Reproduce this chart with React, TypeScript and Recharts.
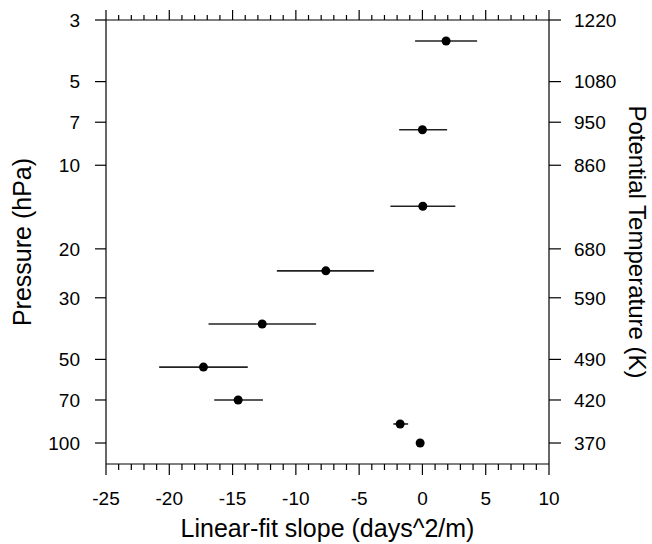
import { ComposedChart, Scatter, ErrorBar, XAxis, YAxis } from "recharts";

// pressure levels (hPa) and fitted slopes with their ranges
const pressure = [3.57, 7.45, 14.05, 24.0, 37.3, 53.3, 70.0, 85.4, 100];
const slope = [1.87, 0.0, 0.03, -7.63, -12.66, -17.3, -14.56, -1.76, -0.18];
const slopeLow = [-0.58, -1.84, -2.53, -11.5, -16.9, -20.8, -16.45, -2.3, -0.18];
const slopeHigh = [4.32, 1.95, 2.6, -3.83, -8.4, -13.8, -12.6, -1.13, -0.18];

const pressureTicks = [3, 5, 7, 10, 20, 30, 50, 70, 100];
const thetaTicks = [1220, 1080, 950, 860, 680, 590, 490, 420, 370];
const slopeTicks = Array.from({ length: 36 }, (_, i) => i - 25);

const data = pressure.map((p, i) => ({
  p,
  s: slope[i],
  err: [slope[i] - slopeLow[i], slopeHigh[i] - slope[i]],
}));

const FONT = "'Liberation Sans', Arial, Helvetica, sans-serif";
const TICK_FS = 19;
const TITLE_FS = 25;

function XTick(props: any) {
  const { x, y, payload, side } = props;
  const v = payload.value;
  const major = v % 5 === 0;
  const dir = side === "bottom" ? 1 : -1;
  const len = side === "bottom" ? (major ? 11 : 6) : major ? 10 : 5;
  return (
    <g>
      <line x1={x} x2={x} y1={y} y2={y + dir * len} stroke="#000" strokeWidth={1.2} />
      {side === "bottom" && major && (
        <text x={x} y={y + 41} textAnchor="middle" fontSize={TICK_FS} fontFamily={FONT} fill="#000">
          {v}
        </text>
      )}
    </g>
  );
}

function YTick(props: any) {
  const { x, y, payload, side } = props;
  const v = payload.value;
  const left = side === "left";
  const idx = pressureTicks.indexOf(v);
  const label = left ? String(v) : String(thetaTicks[idx]);
  return (
    <g>
      <line x1={x} x2={left ? x - 11 : x + 12} y1={y} y2={y} stroke="#000" strokeWidth={1.2} />
      <text
        x={left ? x - 26 : x + 25}
        y={y}
        dy="0.36em"
        textAnchor={left ? "end" : "start"}
        fontSize={TICK_FS}
        fontFamily={FONT}
        fill="#000"
      >
        {label}
      </text>
    </g>
  );
}

const Dot = (props: any) => <circle cx={props.cx} cy={props.cy} r={4.5} fill="#000" />;
const NoDot = () => <g />;

export default function App() {
  const axisLine = { stroke: "#000", strokeWidth: 1.2 };
  return (
    <div style={{ position: "absolute", left: 0, top: 0, background: "#fff" }}>
      <ComposedChart width={652} height={544} data={data} margin={{ top: 0, right: 0, bottom: 0, left: 0 }}>
        <XAxis
          xAxisId="b"
          dataKey="s"
          type="number"
          domain={[-25, 10]}
          ticks={slopeTicks}
          interval={0}
          allowDataOverflow
          height={80}
          axisLine={axisLine}
          tickLine={false}
          tickSize={0}
          tickMargin={0}
          tick={(p: any) => <XTick {...p} side="bottom" />}
          label={{
            content: (p: any) => {
              const vb = p.viewBox;
              return (
                <text
                  x={vb.x + vb.width / 2}
                  y={537}
                  textAnchor="middle"
                  fontSize={TITLE_FS}
                  fontFamily={FONT}
                  fill="#000"
                >
                  Linear-fit slope (days^2/m)
                </text>
              );
            },
          }}
        />
        <XAxis
          xAxisId="t"
          dataKey="s"
          orientation="top"
          type="number"
          domain={[-25, 10]}
          ticks={slopeTicks}
          interval={0}
          allowDataOverflow
          height={20}
          axisLine={axisLine}
          tickLine={false}
          tickSize={0}
          tickMargin={0}
          tick={(p: any) => <XTick {...p} side="top" />}
        />
        <YAxis
          yAxisId="l"
          dataKey="p"
          type="number"
          scale="log"
          domain={[3, 119]}
          reversed
          allowDataOverflow
          ticks={pressureTicks}
          interval={0}
          width={106}
          axisLine={axisLine}
          tickLine={false}
          tickSize={0}
          tickMargin={0}
          tick={(p: any) => <YTick {...p} side="left" />}
          label={{
            content: (p: any) => {
              const vb = p.viewBox;
              const cy = vb.y + vb.height / 2;
              return (
                <text
                  x={22}
                  y={cy}
                  transform={`rotate(-90, 22, ${cy})`}
                  textAnchor="middle"
                  dominantBaseline="central"
                  fontSize={TITLE_FS}
                  fontFamily={FONT}
                  fill="#000"
                >
                  Pressure (hPa)
                </text>
              );
            },
          }}
        />
        <YAxis
          yAxisId="r"
          dataKey="p"
          orientation="right"
          type="number"
          scale="log"
          domain={[3, 119]}
          reversed
          allowDataOverflow
          ticks={pressureTicks}
          interval={0}
          width={103}
          axisLine={axisLine}
          tickLine={false}
          tickSize={0}
          tickMargin={0}
          tick={(p: any) => <YTick {...p} side="right" />}
          label={{
            content: (p: any) => {
              const vb = p.viewBox;
              const cy = vb.y + vb.height / 2;
              return (
                <text
                  x={637}
                  y={cy}
                  transform={`rotate(90, 637, ${cy})`}
                  textAnchor="middle"
                  dominantBaseline="central"
                  fontSize={TITLE_FS - 1}
                  fontFamily={FONT}
                  fill="#000"
                >
                  Potential Temperature (K)
                </text>
              );
            },
          }}
        />
        <Scatter xAxisId="t" yAxisId="r" dataKey="p" shape={NoDot} isAnimationActive={false} />
        <Scatter xAxisId="b" yAxisId="l" dataKey="p" shape={Dot} isAnimationActive={false}>
          <ErrorBar dataKey="err" direction="x" width={0} stroke="#222" strokeWidth={1.6} isAnimationActive={false} />
        </Scatter>
      </ComposedChart>
    </div>
  );
}
